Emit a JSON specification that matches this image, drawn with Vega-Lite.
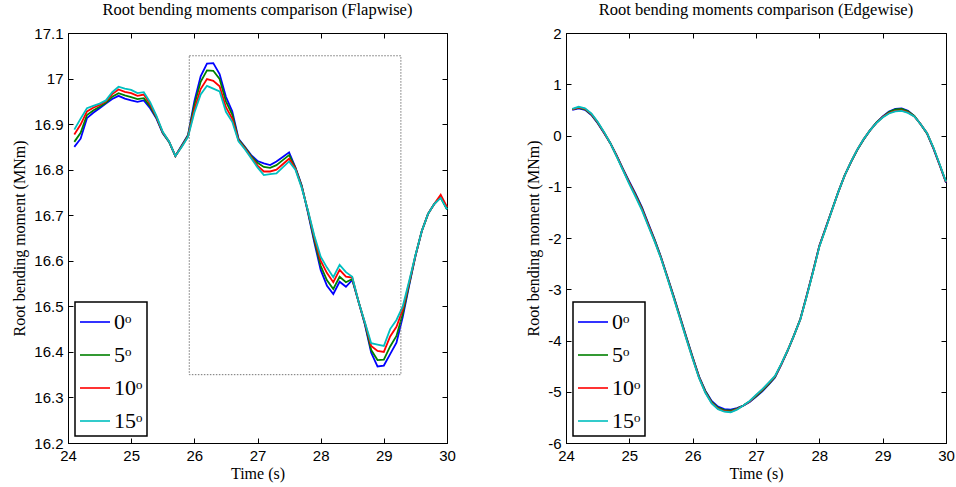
{
"$schema":"https://vega.github.io/schema/vega-lite/v6.json",
"padding":{"left":11,"top":1,"right":5,"bottom":2},
"spacing":69,
"config":{
 "view":{"stroke":"black","strokeWidth":1},
 "axis":{"grid":false,"labelFont":"Liberation Sans","labelFontSize":15,"labelColor":"black","titleFont":"Liberation Serif","titleFontSize":16,"titleFontWeight":"normal","titleColor":"black","domainColor":"black","tickColor":"black","tickSize":-5,"labelPadding":10,"labelFlush":false,"labelOverlap":false,"labelBound":false},
 "title":{"font":"Liberation Serif","fontSize":16.5,"fontWeight":"normal","color":"black","offset":8},
 "legend":{"orient":"none","title":null,"strokeColor":"black","strokeWidth":1.5,"fillColor":"white","padding":4,"symbolType":"stroke","symbolSize":900,"symbolStrokeWidth":1.6,"labelFont":"Liberation Serif","labelFontSize":22,"labelColor":"black","rowPadding":6,"labelOffset":3}
},
"datasets":{
"flap":[
{"s":"0ᵒ","t":24.1,"v":16.850},{"s":"0ᵒ","t":24.2,"v":16.868},{"s":"0ᵒ","t":24.3,"v":16.913},{"s":"0ᵒ","t":24.4,"v":16.925},{"s":"0ᵒ","t":24.5,"v":16.935},{"s":"0ᵒ","t":24.6,"v":16.945},{"s":"0ᵒ","t":24.7,"v":16.955},{"s":"0ᵒ","t":24.8,"v":16.962},{"s":"0ᵒ","t":24.9,"v":16.956},{"s":"0ᵒ","t":25.0,"v":16.952},
{"s":"0ᵒ","t":25.1,"v":16.949},{"s":"0ᵒ","t":25.2,"v":16.952},{"s":"0ᵒ","t":25.3,"v":16.935},{"s":"0ᵒ","t":25.4,"v":16.912},{"s":"0ᵒ","t":25.5,"v":16.880},{"s":"0ᵒ","t":25.6,"v":16.861},{"s":"0ᵒ","t":25.7,"v":16.830},{"s":"0ᵒ","t":25.8,"v":16.853},{"s":"0ᵒ","t":25.9,"v":16.876},{"s":"0ᵒ","t":26.0,"v":16.950},
{"s":"0ᵒ","t":26.1,"v":17.005},{"s":"0ᵒ","t":26.2,"v":17.033},{"s":"0ᵒ","t":26.3,"v":17.034},{"s":"0ᵒ","t":26.4,"v":17.010},{"s":"0ᵒ","t":26.5,"v":16.960},{"s":"0ᵒ","t":26.6,"v":16.928},{"s":"0ᵒ","t":26.7,"v":16.868},{"s":"0ᵒ","t":26.8,"v":16.850},{"s":"0ᵒ","t":26.9,"v":16.832},{"s":"0ᵒ","t":27.0,"v":16.819},
{"s":"0ᵒ","t":27.1,"v":16.814},{"s":"0ᵒ","t":27.2,"v":16.810},{"s":"0ᵒ","t":27.3,"v":16.818},{"s":"0ᵒ","t":27.4,"v":16.828},{"s":"0ᵒ","t":27.5,"v":16.838},{"s":"0ᵒ","t":27.6,"v":16.805},{"s":"0ᵒ","t":27.7,"v":16.765},{"s":"0ᵒ","t":27.8,"v":16.705},{"s":"0ᵒ","t":27.9,"v":16.640},{"s":"0ᵒ","t":28.0,"v":16.580},
{"s":"0ᵒ","t":28.1,"v":16.545},{"s":"0ᵒ","t":28.2,"v":16.527},{"s":"0ᵒ","t":28.3,"v":16.554},{"s":"0ᵒ","t":28.4,"v":16.543},{"s":"0ᵒ","t":28.5,"v":16.558},{"s":"0ᵒ","t":28.6,"v":16.510},{"s":"0ᵒ","t":28.7,"v":16.460},{"s":"0ᵒ","t":28.8,"v":16.398},{"s":"0ᵒ","t":28.9,"v":16.368},{"s":"0ᵒ","t":29.0,"v":16.370},
{"s":"0ᵒ","t":29.1,"v":16.395},{"s":"0ᵒ","t":29.2,"v":16.420},{"s":"0ᵒ","t":29.3,"v":16.477},{"s":"0ᵒ","t":29.4,"v":16.545},{"s":"0ᵒ","t":29.5,"v":16.610},{"s":"0ᵒ","t":29.6,"v":16.665},{"s":"0ᵒ","t":29.7,"v":16.703},{"s":"0ᵒ","t":29.8,"v":16.725},{"s":"0ᵒ","t":29.9,"v":16.740},{"s":"0ᵒ","t":30.0,"v":16.713},
{"s":"5ᵒ","t":24.1,"v":16.861},{"s":"5ᵒ","t":24.2,"v":16.881},{"s":"5ᵒ","t":24.3,"v":16.920},{"s":"5ᵒ","t":24.4,"v":16.930},{"s":"5ᵒ","t":24.5,"v":16.938},{"s":"5ᵒ","t":24.6,"v":16.947},{"s":"5ᵒ","t":24.7,"v":16.960},{"s":"5ᵒ","t":24.8,"v":16.968},{"s":"5ᵒ","t":24.9,"v":16.963},{"s":"5ᵒ","t":25.0,"v":16.959},
{"s":"5ᵒ","t":25.1,"v":16.955},{"s":"5ᵒ","t":25.2,"v":16.957},{"s":"5ᵒ","t":25.3,"v":16.939},{"s":"5ᵒ","t":25.4,"v":16.914},{"s":"5ᵒ","t":25.5,"v":16.881},{"s":"5ᵒ","t":25.6,"v":16.861},{"s":"5ᵒ","t":25.7,"v":16.830},{"s":"5ᵒ","t":25.8,"v":16.852},{"s":"5ᵒ","t":25.9,"v":16.875},{"s":"5ᵒ","t":26.0,"v":16.942},
{"s":"5ᵒ","t":26.1,"v":16.993},{"s":"5ᵒ","t":26.2,"v":17.018},{"s":"5ᵒ","t":26.3,"v":17.017},{"s":"5ᵒ","t":26.4,"v":16.999},{"s":"5ᵒ","t":26.5,"v":16.950},{"s":"5ᵒ","t":26.6,"v":16.921},{"s":"5ᵒ","t":26.7,"v":16.866},{"s":"5ᵒ","t":26.8,"v":16.849},{"s":"5ᵒ","t":26.9,"v":16.830},{"s":"5ᵒ","t":27.0,"v":16.815},
{"s":"5ᵒ","t":27.1,"v":16.806},{"s":"5ᵒ","t":27.2,"v":16.804},{"s":"5ᵒ","t":27.3,"v":16.810},{"s":"5ᵒ","t":27.4,"v":16.821},{"s":"5ᵒ","t":27.5,"v":16.832},{"s":"5ᵒ","t":27.6,"v":16.804},{"s":"5ᵒ","t":27.7,"v":16.764},{"s":"5ᵒ","t":27.8,"v":16.707},{"s":"5ᵒ","t":27.9,"v":16.645},{"s":"5ᵒ","t":28.0,"v":16.589},
{"s":"5ᵒ","t":28.1,"v":16.557},{"s":"5ᵒ","t":28.2,"v":16.538},{"s":"5ᵒ","t":28.3,"v":16.565},{"s":"5ᵒ","t":28.4,"v":16.553},{"s":"5ᵒ","t":28.5,"v":16.560},{"s":"5ᵒ","t":28.6,"v":16.510},{"s":"5ᵒ","t":28.7,"v":16.462},{"s":"5ᵒ","t":28.8,"v":16.404},{"s":"5ᵒ","t":28.9,"v":16.382},{"s":"5ᵒ","t":29.0,"v":16.383},
{"s":"5ᵒ","t":29.1,"v":16.412},{"s":"5ᵒ","t":29.2,"v":16.435},{"s":"5ᵒ","t":29.3,"v":16.484},{"s":"5ᵒ","t":29.4,"v":16.548},{"s":"5ᵒ","t":29.5,"v":16.611},{"s":"5ᵒ","t":29.6,"v":16.665},{"s":"5ᵒ","t":29.7,"v":16.703},{"s":"5ᵒ","t":29.8,"v":16.725},{"s":"5ᵒ","t":29.9,"v":16.739},{"s":"5ᵒ","t":30.0,"v":16.713},
{"s":"10ᵒ","t":24.1,"v":16.877},{"s":"10ᵒ","t":24.2,"v":16.899},{"s":"10ᵒ","t":24.3,"v":16.928},{"s":"10ᵒ","t":24.4,"v":16.936},{"s":"10ᵒ","t":24.5,"v":16.942},{"s":"10ᵒ","t":24.6,"v":16.950},{"s":"10ᵒ","t":24.7,"v":16.966},{"s":"10ᵒ","t":24.8,"v":16.976},{"s":"10ᵒ","t":24.9,"v":16.971},{"s":"10ᵒ","t":25.0,"v":16.968},
{"s":"10ᵒ","t":25.1,"v":16.962},{"s":"10ᵒ","t":25.2,"v":16.965},{"s":"10ᵒ","t":25.3,"v":16.944},{"s":"10ᵒ","t":25.4,"v":16.916},{"s":"10ᵒ","t":25.5,"v":16.882},{"s":"10ᵒ","t":25.6,"v":16.862},{"s":"10ᵒ","t":25.7,"v":16.830},{"s":"10ᵒ","t":25.8,"v":16.851},{"s":"10ᵒ","t":25.9,"v":16.873},{"s":"10ᵒ","t":26.0,"v":16.932},
{"s":"10ᵒ","t":26.1,"v":16.977},{"s":"10ᵒ","t":26.2,"v":16.999},{"s":"10ᵒ","t":26.3,"v":16.995},{"s":"10ᵒ","t":26.4,"v":16.983},{"s":"10ᵒ","t":26.5,"v":16.937},{"s":"10ᵒ","t":26.6,"v":16.912},{"s":"10ᵒ","t":26.7,"v":16.864},{"s":"10ᵒ","t":26.8,"v":16.847},{"s":"10ᵒ","t":26.9,"v":16.827},{"s":"10ᵒ","t":27.0,"v":16.809},
{"s":"10ᵒ","t":27.1,"v":16.796},{"s":"10ᵒ","t":27.2,"v":16.796},{"s":"10ᵒ","t":27.3,"v":16.800},{"s":"10ᵒ","t":27.4,"v":16.812},{"s":"10ᵒ","t":27.5,"v":16.824},{"s":"10ᵒ","t":27.6,"v":16.802},{"s":"10ᵒ","t":27.7,"v":16.762},{"s":"10ᵒ","t":27.8,"v":16.709},{"s":"10ᵒ","t":27.9,"v":16.651},{"s":"10ᵒ","t":28.0,"v":16.600},
{"s":"10ᵒ","t":28.1,"v":16.573},{"s":"10ᵒ","t":28.2,"v":16.553},{"s":"10ᵒ","t":28.3,"v":16.580},{"s":"10ᵒ","t":28.4,"v":16.565},{"s":"10ᵒ","t":28.5,"v":16.563},{"s":"10ᵒ","t":28.6,"v":16.510},{"s":"10ᵒ","t":28.7,"v":16.464},{"s":"10ᵒ","t":28.8,"v":16.413},{"s":"10ᵒ","t":28.9,"v":16.402},{"s":"10ᵒ","t":29.0,"v":16.400},
{"s":"10ᵒ","t":29.1,"v":16.434},{"s":"10ᵒ","t":29.2,"v":16.455},{"s":"10ᵒ","t":29.3,"v":16.493},{"s":"10ᵒ","t":29.4,"v":16.552},{"s":"10ᵒ","t":29.5,"v":16.611},{"s":"10ᵒ","t":29.6,"v":16.665},{"s":"10ᵒ","t":29.7,"v":16.703},{"s":"10ᵒ","t":29.8,"v":16.725},{"s":"10ᵒ","t":29.9,"v":16.745},{"s":"10ᵒ","t":30.0,"v":16.718},
{"s":"15ᵒ","t":24.1,"v":16.888},{"s":"15ᵒ","t":24.2,"v":16.912},{"s":"15ᵒ","t":24.3,"v":16.935},{"s":"15ᵒ","t":24.4,"v":16.940},{"s":"15ᵒ","t":24.5,"v":16.945},{"s":"15ᵒ","t":24.6,"v":16.952},{"s":"15ᵒ","t":24.7,"v":16.970},{"s":"15ᵒ","t":24.8,"v":16.982},{"s":"15ᵒ","t":24.9,"v":16.978},{"s":"15ᵒ","t":25.0,"v":16.975},
{"s":"15ᵒ","t":25.1,"v":16.968},{"s":"15ᵒ","t":25.2,"v":16.970},{"s":"15ᵒ","t":25.3,"v":16.948},{"s":"15ᵒ","t":25.4,"v":16.918},{"s":"15ᵒ","t":25.5,"v":16.883},{"s":"15ᵒ","t":25.6,"v":16.862},{"s":"15ᵒ","t":25.7,"v":16.830},{"s":"15ᵒ","t":25.8,"v":16.850},{"s":"15ᵒ","t":25.9,"v":16.872},{"s":"15ᵒ","t":26.0,"v":16.925},
{"s":"15ᵒ","t":26.1,"v":16.965},{"s":"15ᵒ","t":26.2,"v":16.984},{"s":"15ᵒ","t":26.3,"v":16.978},{"s":"15ᵒ","t":26.4,"v":16.972},{"s":"15ᵒ","t":26.5,"v":16.927},{"s":"15ᵒ","t":26.6,"v":16.905},{"s":"15ᵒ","t":26.7,"v":16.862},{"s":"15ᵒ","t":26.8,"v":16.845},{"s":"15ᵒ","t":26.9,"v":16.825},{"s":"15ᵒ","t":27.0,"v":16.805},
{"s":"15ᵒ","t":27.1,"v":16.788},{"s":"15ᵒ","t":27.2,"v":16.790},{"s":"15ᵒ","t":27.3,"v":16.792},{"s":"15ᵒ","t":27.4,"v":16.805},{"s":"15ᵒ","t":27.5,"v":16.818},{"s":"15ᵒ","t":27.6,"v":16.800},{"s":"15ᵒ","t":27.7,"v":16.760},{"s":"15ᵒ","t":27.8,"v":16.710},{"s":"15ᵒ","t":27.9,"v":16.655},{"s":"15ᵒ","t":28.0,"v":16.609},
{"s":"15ᵒ","t":28.1,"v":16.585},{"s":"15ᵒ","t":28.2,"v":16.564},{"s":"15ᵒ","t":28.3,"v":16.591},{"s":"15ᵒ","t":28.4,"v":16.575},{"s":"15ᵒ","t":28.5,"v":16.565},{"s":"15ᵒ","t":28.6,"v":16.510},{"s":"15ᵒ","t":28.7,"v":16.465},{"s":"15ᵒ","t":28.8,"v":16.419},{"s":"15ᵒ","t":28.9,"v":16.416},{"s":"15ᵒ","t":29.0,"v":16.413},
{"s":"15ᵒ","t":29.1,"v":16.450},{"s":"15ᵒ","t":29.2,"v":16.470},{"s":"15ᵒ","t":29.3,"v":16.500},{"s":"15ᵒ","t":29.4,"v":16.555},{"s":"15ᵒ","t":29.5,"v":16.612},{"s":"15ᵒ","t":29.6,"v":16.665},{"s":"15ᵒ","t":29.7,"v":16.703},{"s":"15ᵒ","t":29.8,"v":16.725},{"s":"15ᵒ","t":29.9,"v":16.738},{"s":"15ᵒ","t":30.0,"v":16.713}
],
"edge":[
{"s":"0ᵒ","t":24.1,"v":0.50},{"s":"0ᵒ","t":24.2,"v":0.53},{"s":"0ᵒ","t":24.3,"v":0.50},{"s":"0ᵒ","t":24.4,"v":0.40},{"s":"0ᵒ","t":24.5,"v":0.24},{"s":"0ᵒ","t":24.6,"v":0.05},{"s":"0ᵒ","t":24.7,"v":-0.15},{"s":"0ᵒ","t":24.8,"v":-0.39},{"s":"0ᵒ","t":24.9,"v":-0.65},{"s":"0ᵒ","t":25.0,"v":-0.90},
{"s":"0ᵒ","t":25.1,"v":-1.14},{"s":"0ᵒ","t":25.2,"v":-1.40},{"s":"0ᵒ","t":25.3,"v":-1.72},{"s":"0ᵒ","t":25.4,"v":-2.03},{"s":"0ᵒ","t":25.5,"v":-2.37},{"s":"0ᵒ","t":25.6,"v":-2.75},{"s":"0ᵒ","t":25.7,"v":-3.13},{"s":"0ᵒ","t":25.8,"v":-3.53},{"s":"0ᵒ","t":25.9,"v":-3.93},{"s":"0ᵒ","t":26.0,"v":-4.32},
{"s":"0ᵒ","t":26.1,"v":-4.70},{"s":"0ᵒ","t":26.2,"v":-4.98},{"s":"0ᵒ","t":26.3,"v":-5.18},{"s":"0ᵒ","t":26.4,"v":-5.29},{"s":"0ᵒ","t":26.5,"v":-5.34},{"s":"0ᵒ","t":26.6,"v":-5.35},{"s":"0ᵒ","t":26.7,"v":-5.32},{"s":"0ᵒ","t":26.8,"v":-5.27},{"s":"0ᵒ","t":26.9,"v":-5.20},{"s":"0ᵒ","t":27.0,"v":-5.10},
{"s":"0ᵒ","t":27.1,"v":-4.99},{"s":"0ᵒ","t":27.2,"v":-4.86},{"s":"0ᵒ","t":27.3,"v":-4.72},{"s":"0ᵒ","t":27.4,"v":-4.47},{"s":"0ᵒ","t":27.5,"v":-4.20},{"s":"0ᵒ","t":27.6,"v":-3.90},{"s":"0ᵒ","t":27.7,"v":-3.58},{"s":"0ᵒ","t":27.8,"v":-3.12},{"s":"0ᵒ","t":27.9,"v":-2.65},{"s":"0ᵒ","t":28.0,"v":-2.15},
{"s":"0ᵒ","t":28.1,"v":-1.80},{"s":"0ᵒ","t":28.2,"v":-1.45},{"s":"0ᵒ","t":28.3,"v":-1.10},{"s":"0ᵒ","t":28.4,"v":-0.78},{"s":"0ᵒ","t":28.5,"v":-0.52},{"s":"0ᵒ","t":28.6,"v":-0.28},{"s":"0ᵒ","t":28.7,"v":-0.08},{"s":"0ᵒ","t":28.8,"v":0.10},{"s":"0ᵒ","t":28.9,"v":0.25},{"s":"0ᵒ","t":29.0,"v":0.37},
{"s":"0ᵒ","t":29.1,"v":0.47},{"s":"0ᵒ","t":29.2,"v":0.52},{"s":"0ᵒ","t":29.3,"v":0.53},{"s":"0ᵒ","t":29.4,"v":0.48},{"s":"0ᵒ","t":29.5,"v":0.38},{"s":"0ᵒ","t":29.6,"v":0.22},{"s":"0ᵒ","t":29.7,"v":0.04},{"s":"0ᵒ","t":29.8,"v":-0.25},{"s":"0ᵒ","t":29.9,"v":-0.58},{"s":"0ᵒ","t":30.0,"v":-0.92},
{"s":"5ᵒ","t":24.1,"v":0.51},{"s":"5ᵒ","t":24.2,"v":0.54},{"s":"5ᵒ","t":24.3,"v":0.51},{"s":"5ᵒ","t":24.4,"v":0.41},{"s":"5ᵒ","t":24.5,"v":0.25},{"s":"5ᵒ","t":24.6,"v":0.06},{"s":"5ᵒ","t":24.7,"v":-0.15},{"s":"5ᵒ","t":24.8,"v":-0.40},{"s":"5ᵒ","t":24.9,"v":-0.66},{"s":"5ᵒ","t":25.0,"v":-0.92},
{"s":"5ᵒ","t":25.1,"v":-1.16},{"s":"5ᵒ","t":25.2,"v":-1.42},{"s":"5ᵒ","t":25.3,"v":-1.74},{"s":"5ᵒ","t":25.4,"v":-2.04},{"s":"5ᵒ","t":25.5,"v":-2.38},{"s":"5ᵒ","t":25.6,"v":-2.76},{"s":"5ᵒ","t":25.7,"v":-3.14},{"s":"5ᵒ","t":25.8,"v":-3.54},{"s":"5ᵒ","t":25.9,"v":-3.94},{"s":"5ᵒ","t":26.0,"v":-4.33},
{"s":"5ᵒ","t":26.1,"v":-4.71},{"s":"5ᵒ","t":26.2,"v":-4.99},{"s":"5ᵒ","t":26.3,"v":-5.20},{"s":"5ᵒ","t":26.4,"v":-5.31},{"s":"5ᵒ","t":26.5,"v":-5.36},{"s":"5ᵒ","t":26.6,"v":-5.37},{"s":"5ᵒ","t":26.7,"v":-5.33},{"s":"5ᵒ","t":26.8,"v":-5.27},{"s":"5ᵒ","t":26.9,"v":-5.19},{"s":"5ᵒ","t":27.0,"v":-5.09},
{"s":"5ᵒ","t":27.1,"v":-4.98},{"s":"5ᵒ","t":27.2,"v":-4.85},{"s":"5ᵒ","t":27.3,"v":-4.71},{"s":"5ᵒ","t":27.4,"v":-4.46},{"s":"5ᵒ","t":27.5,"v":-4.20},{"s":"5ᵒ","t":27.6,"v":-3.90},{"s":"5ᵒ","t":27.7,"v":-3.58},{"s":"5ᵒ","t":27.8,"v":-3.13},{"s":"5ᵒ","t":27.9,"v":-2.66},{"s":"5ᵒ","t":28.0,"v":-2.16},
{"s":"5ᵒ","t":28.1,"v":-1.81},{"s":"5ᵒ","t":28.2,"v":-1.45},{"s":"5ᵒ","t":28.3,"v":-1.10},{"s":"5ᵒ","t":28.4,"v":-0.78},{"s":"5ᵒ","t":28.5,"v":-0.52},{"s":"5ᵒ","t":28.6,"v":-0.28},{"s":"5ᵒ","t":28.7,"v":-0.08},{"s":"5ᵒ","t":28.8,"v":0.10},{"s":"5ᵒ","t":28.9,"v":0.25},{"s":"5ᵒ","t":29.0,"v":0.36},
{"s":"5ᵒ","t":29.1,"v":0.46},{"s":"5ᵒ","t":29.2,"v":0.51},{"s":"5ᵒ","t":29.3,"v":0.52},{"s":"5ᵒ","t":29.4,"v":0.47},{"s":"5ᵒ","t":29.5,"v":0.38},{"s":"5ᵒ","t":29.6,"v":0.22},{"s":"5ᵒ","t":29.7,"v":0.04},{"s":"5ᵒ","t":29.8,"v":-0.24},{"s":"5ᵒ","t":29.9,"v":-0.57},{"s":"5ᵒ","t":30.0,"v":-0.91},
{"s":"10ᵒ","t":24.1,"v":0.51},{"s":"10ᵒ","t":24.2,"v":0.55},{"s":"10ᵒ","t":24.3,"v":0.52},{"s":"10ᵒ","t":24.4,"v":0.42},{"s":"10ᵒ","t":24.5,"v":0.26},{"s":"10ᵒ","t":24.6,"v":0.06},{"s":"10ᵒ","t":24.7,"v":-0.15},{"s":"10ᵒ","t":24.8,"v":-0.40},{"s":"10ᵒ","t":24.9,"v":-0.67},{"s":"10ᵒ","t":25.0,"v":-0.93},
{"s":"10ᵒ","t":25.1,"v":-1.18},{"s":"10ᵒ","t":25.2,"v":-1.44},{"s":"10ᵒ","t":25.3,"v":-1.75},{"s":"10ᵒ","t":25.4,"v":-2.06},{"s":"10ᵒ","t":25.5,"v":-2.39},{"s":"10ᵒ","t":25.6,"v":-2.77},{"s":"10ᵒ","t":25.7,"v":-3.16},{"s":"10ᵒ","t":25.8,"v":-3.56},{"s":"10ᵒ","t":25.9,"v":-3.96},{"s":"10ᵒ","t":26.0,"v":-4.35},
{"s":"10ᵒ","t":26.1,"v":-4.72},{"s":"10ᵒ","t":26.2,"v":-5.01},{"s":"10ᵒ","t":26.3,"v":-5.22},{"s":"10ᵒ","t":26.4,"v":-5.33},{"s":"10ᵒ","t":26.5,"v":-5.38},{"s":"10ᵒ","t":26.6,"v":-5.39},{"s":"10ᵒ","t":26.7,"v":-5.34},{"s":"10ᵒ","t":26.8,"v":-5.27},{"s":"10ᵒ","t":26.9,"v":-5.19},{"s":"10ᵒ","t":27.0,"v":-5.07},
{"s":"10ᵒ","t":27.1,"v":-4.96},{"s":"10ᵒ","t":27.2,"v":-4.83},{"s":"10ᵒ","t":27.3,"v":-4.70},{"s":"10ᵒ","t":27.4,"v":-4.46},{"s":"10ᵒ","t":27.5,"v":-4.19},{"s":"10ᵒ","t":27.6,"v":-3.90},{"s":"10ᵒ","t":27.7,"v":-3.59},{"s":"10ᵒ","t":27.8,"v":-3.13},{"s":"10ᵒ","t":27.9,"v":-2.66},{"s":"10ᵒ","t":28.0,"v":-2.16},
{"s":"10ᵒ","t":28.1,"v":-1.81},{"s":"10ᵒ","t":28.2,"v":-1.46},{"s":"10ᵒ","t":28.3,"v":-1.10},{"s":"10ᵒ","t":28.4,"v":-0.78},{"s":"10ᵒ","t":28.5,"v":-0.51},{"s":"10ᵒ","t":28.6,"v":-0.27},{"s":"10ᵒ","t":28.7,"v":-0.07},{"s":"10ᵒ","t":28.8,"v":0.10},{"s":"10ᵒ","t":28.9,"v":0.24},{"s":"10ᵒ","t":29.0,"v":0.36},
{"s":"10ᵒ","t":29.1,"v":0.44},{"s":"10ᵒ","t":29.2,"v":0.48},{"s":"10ᵒ","t":29.3,"v":0.49},{"s":"10ᵒ","t":29.4,"v":0.45},{"s":"10ᵒ","t":29.5,"v":0.37},{"s":"10ᵒ","t":29.6,"v":0.22},{"s":"10ᵒ","t":29.7,"v":0.05},{"s":"10ᵒ","t":29.8,"v":-0.24},{"s":"10ᵒ","t":29.9,"v":-0.57},{"s":"10ᵒ","t":30.0,"v":-0.91},
{"s":"15ᵒ","t":24.1,"v":0.52},{"s":"15ᵒ","t":24.2,"v":0.56},{"s":"15ᵒ","t":24.3,"v":0.53},{"s":"15ᵒ","t":24.4,"v":0.43},{"s":"15ᵒ","t":24.5,"v":0.27},{"s":"15ᵒ","t":24.6,"v":0.07},{"s":"15ᵒ","t":24.7,"v":-0.15},{"s":"15ᵒ","t":24.8,"v":-0.41},{"s":"15ᵒ","t":24.9,"v":-0.68},{"s":"15ᵒ","t":25.0,"v":-0.95},
{"s":"15ᵒ","t":25.1,"v":-1.20},{"s":"15ᵒ","t":25.2,"v":-1.46},{"s":"15ᵒ","t":25.3,"v":-1.77},{"s":"15ᵒ","t":25.4,"v":-2.07},{"s":"15ᵒ","t":25.5,"v":-2.40},{"s":"15ᵒ","t":25.6,"v":-2.78},{"s":"15ᵒ","t":25.7,"v":-3.17},{"s":"15ᵒ","t":25.8,"v":-3.57},{"s":"15ᵒ","t":25.9,"v":-3.97},{"s":"15ᵒ","t":26.0,"v":-4.36},
{"s":"15ᵒ","t":26.1,"v":-4.73},{"s":"15ᵒ","t":26.2,"v":-5.02},{"s":"15ᵒ","t":26.3,"v":-5.23},{"s":"15ᵒ","t":26.4,"v":-5.34},{"s":"15ᵒ","t":26.5,"v":-5.39},{"s":"15ᵒ","t":26.6,"v":-5.40},{"s":"15ᵒ","t":26.7,"v":-5.35},{"s":"15ᵒ","t":26.8,"v":-5.27},{"s":"15ᵒ","t":26.9,"v":-5.18},{"s":"15ᵒ","t":27.0,"v":-5.06},
{"s":"15ᵒ","t":27.1,"v":-4.95},{"s":"15ᵒ","t":27.2,"v":-4.82},{"s":"15ᵒ","t":27.3,"v":-4.69},{"s":"15ᵒ","t":27.4,"v":-4.45},{"s":"15ᵒ","t":27.5,"v":-4.19},{"s":"15ᵒ","t":27.6,"v":-3.90},{"s":"15ᵒ","t":27.7,"v":-3.59},{"s":"15ᵒ","t":27.8,"v":-3.14},{"s":"15ᵒ","t":27.9,"v":-2.67},{"s":"15ᵒ","t":28.0,"v":-2.17},
{"s":"15ᵒ","t":28.1,"v":-1.82},{"s":"15ᵒ","t":28.2,"v":-1.46},{"s":"15ᵒ","t":28.3,"v":-1.10},{"s":"15ᵒ","t":28.4,"v":-0.78},{"s":"15ᵒ","t":28.5,"v":-0.51},{"s":"15ᵒ","t":28.6,"v":-0.27},{"s":"15ᵒ","t":28.7,"v":-0.07},{"s":"15ᵒ","t":28.8,"v":0.10},{"s":"15ᵒ","t":28.9,"v":0.24},{"s":"15ᵒ","t":29.0,"v":0.35},
{"s":"15ᵒ","t":29.1,"v":0.43},{"s":"15ᵒ","t":29.2,"v":0.47},{"s":"15ᵒ","t":29.3,"v":0.48},{"s":"15ᵒ","t":29.4,"v":0.44},{"s":"15ᵒ","t":29.5,"v":0.37},{"s":"15ᵒ","t":29.6,"v":0.22},{"s":"15ᵒ","t":29.7,"v":0.05},{"s":"15ᵒ","t":29.8,"v":-0.23},{"s":"15ᵒ","t":29.9,"v":-0.56},{"s":"15ᵒ","t":30.0,"v":-0.90}
],
"box":[{"x1":25.92,"x2":29.27,"y1":16.35,"y2":17.05}]
},
"hconcat":[
 {"width":379,"height":410,
  "title":"Root bending moments comparison (Flapwise)",
  "layer":[
   {"data":{"name":"flap"},"mark":{"type":"line","strokeWidth":1.8},
    "encoding":{
     "x":{"field":"t","type":"quantitative","scale":{"domain":[24,30],"nice":false,"zero":false},"axis":{"title":"Time (s)","values":[24,25,26,27,28,29,30],"titlePadding":2}},
     "y":{"field":"v","type":"quantitative","scale":{"domain":[16.2,17.1],"nice":false,"zero":false},"axis":{"title":"Root bending moment (MNm)","values":[16.2,16.3,16.4,16.5,16.6,16.7,16.8,16.9,17,17.1],"format":".1~f","titlePadding":6}},
     "color":{"field":"s","type":"nominal","scale":{"domain":["0ᵒ","5ᵒ","10ᵒ","15ᵒ"],"range":["#0000FF","#008000","#FF0000","#00BFBF"]},"sort":null,"legend":{"orient":"none","legendX":7,"legendY":269}}
    }},
   {"data":{"name":"box"},"mark":{"type":"rect","filled":false,"stroke":"#666666","strokeWidth":0.9,"strokeDash":[1.5,1.5]},
    "encoding":{
     "x":{"field":"x1","type":"quantitative","scale":{"domain":[24,30],"nice":false,"zero":false},"axis":{"orient":"top","title":null,"labels":false,"domain":false,"values":[24,25,26,27,28,29,30]}},
     "x2":{"field":"x2"},
     "y":{"field":"y1","type":"quantitative","scale":{"domain":[16.2,17.1],"nice":false,"zero":false},"axis":{"orient":"right","title":null,"labels":false,"domain":false,"values":[16.2,16.3,16.4,16.5,16.6,16.7,16.8,16.9,17,17.1]}},
     "y2":{"field":"y2"}
    }}
  ],
  "resolve":{"scale":{"x":"independent","y":"independent"},"axis":{"x":"independent","y":"independent"}}
 },
 {"width":380,"height":410,
  "title":"Root bending moments comparison (Edgewise)",
  "layer":[
   {"data":{"name":"edge"},"mark":{"type":"line","strokeWidth":1.8},
    "encoding":{
     "x":{"field":"t","type":"quantitative","scale":{"domain":[24,30],"nice":false,"zero":false},"axis":{"title":"Time (s)","values":[24,25,26,27,28,29,30],"titlePadding":2}},
     "y":{"field":"v","type":"quantitative","scale":{"domain":[-6,2],"nice":false,"zero":false},"axis":{"title":"Root bending moment (MNm)","values":[-6,-5,-4,-3,-2,-1,0,1,2],"labelExpr":"replace(datum.label, '−', '-')","titlePadding":6}},
     "color":{"field":"s","type":"nominal","scale":{"domain":["0ᵒ","5ᵒ","10ᵒ","15ᵒ"],"range":["#0000FF","#008000","#FF0000","#00BFBF"]},"sort":null,"legend":{"orient":"none","legendX":7,"legendY":269}}
    }},
   {"data":{"name":"edge"},"mark":{"type":"point","opacity":0},
    "encoding":{
     "x":{"field":"t","type":"quantitative","scale":{"domain":[24,30],"nice":false,"zero":false},"axis":{"orient":"top","title":null,"labels":false,"domain":false,"values":[24,25,26,27,28,29,30]}},
     "y":{"field":"v","type":"quantitative","scale":{"domain":[-6,2],"nice":false,"zero":false},"axis":{"orient":"right","title":null,"labels":false,"domain":false,"values":[-6,-5,-4,-3,-2,-1,0,1,2]}}
    }}
  ],
  "resolve":{"scale":{"x":"independent","y":"independent"},"axis":{"x":"independent","y":"independent"}}
 }
],
"resolve":{"scale":{"color":"independent"},"legend":{"color":"independent"}}
}
